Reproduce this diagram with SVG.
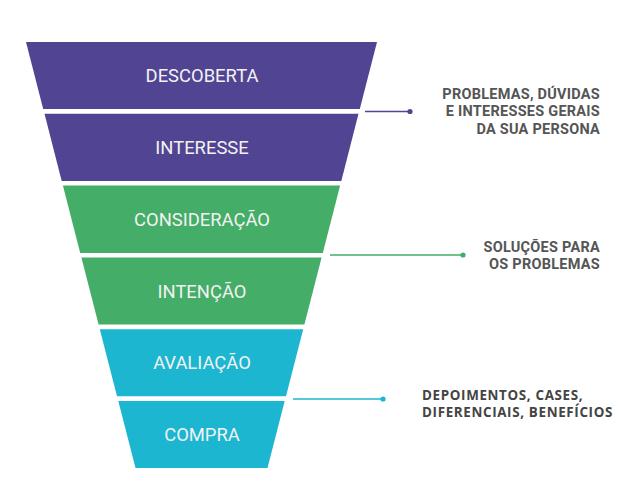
<svg xmlns="http://www.w3.org/2000/svg" width="644" height="486" viewBox="0 0 644 486">
  <style>
    .seg-p { fill: #514492; }
    .seg-g { fill: #44ad67; }
    .seg-c { fill: #1cb6d1; }
    .stage { font-family: Roboto, "Liberation Sans", sans-serif; font-size: 18.4px; fill: #f2f2f2; text-anchor: middle; }
    .note { font-family: Roboto, "Liberation Sans", sans-serif; font-size: 14.5px; font-weight: 700; fill: #555555; text-anchor: end; letter-spacing: 0.25px; }
    .note2 { font-family: "Open Sans", "Liberation Sans", sans-serif; font-size: 13.4px; font-weight: 700; fill: #444444; letter-spacing: 0.65px; }
  </style>
  <rect width="644" height="486" fill="#ffffff"/>
  <g id="descoberta">
    <polygon class="seg-p" points="26,42 377,42 359.8,109 43.2,109"/>
    <text class="stage" x="202" y="82">DESCOBERTA</text>
  </g>
  <g id="interesse">
    <polygon class="seg-p" points="44.5,113.8 358.5,113.8 341.3,181 61.7,181"/>
    <text class="stage" x="202" y="154">INTERESSE</text>
  </g>
  <g id="consideracao">
    <polygon class="seg-g" points="62.9,185.6 340.1,185.6 322.8,253 80.2,253"/>
    <text class="stage" x="202" y="225.8">CONSIDERAÇÃO</text>
  </g>
  <g id="intencao">
    <polygon class="seg-g" points="81.4,257.4 321.6,257.4 304.4,324.4 98.6,324.4"/>
    <text class="stage" x="202" y="297.5">INTENÇÃO</text>
  </g>
  <g id="avaliacao">
    <polygon class="seg-c" points="99.8,329.2 303.2,329.2 286,396.2 117,396.2"/>
    <text class="stage" x="202" y="369.2">AVALIAÇÃO</text>
  </g>
  <g id="compra">
    <polygon class="seg-c" points="118.3,401 284.7,401 267.5,468 135.5,468"/>
    <text class="stage" x="202" y="441">COMPRA</text>
  </g>
  <g id="connectors">
    <line x1="365" y1="111.5" x2="410" y2="111.5" stroke="#514492" stroke-width="1.5"/>
    <circle cx="410" cy="111.5" r="2.6" fill="#514492"/>
    <line x1="330" y1="255" x2="463" y2="255" stroke="#44ad67" stroke-width="1.5"/>
    <circle cx="463" cy="255" r="2.6" fill="#44ad67"/>
    <line x1="293" y1="399" x2="383" y2="399" stroke="#1cb6d1" stroke-width="1.5"/>
    <circle cx="383" cy="399" r="2.6" fill="#1cb6d1"/>
  </g>
  <g id="label-topo">
    <text class="note" x="600" y="98.5">PROBLEMAS, DÚVIDAS</text>
    <text class="note" x="600" y="116">E INTERESSES GERAIS</text>
    <text class="note" x="600" y="133.5">DA SUA PERSONA</text>
  </g>
  <g id="label-meio">
    <text class="note" x="600" y="252">SOLUÇÕES PARA</text>
    <text class="note" x="600" y="268.5">OS PROBLEMAS</text>
  </g>
  <g id="label-fundo">
    <text class="note2" x="422" y="400">DEPOIMENTOS, CASES,</text>
    <text class="note2" x="422" y="417">DIFERENCIAIS, BENEFÍCIOS</text>
  </g>
</svg>
